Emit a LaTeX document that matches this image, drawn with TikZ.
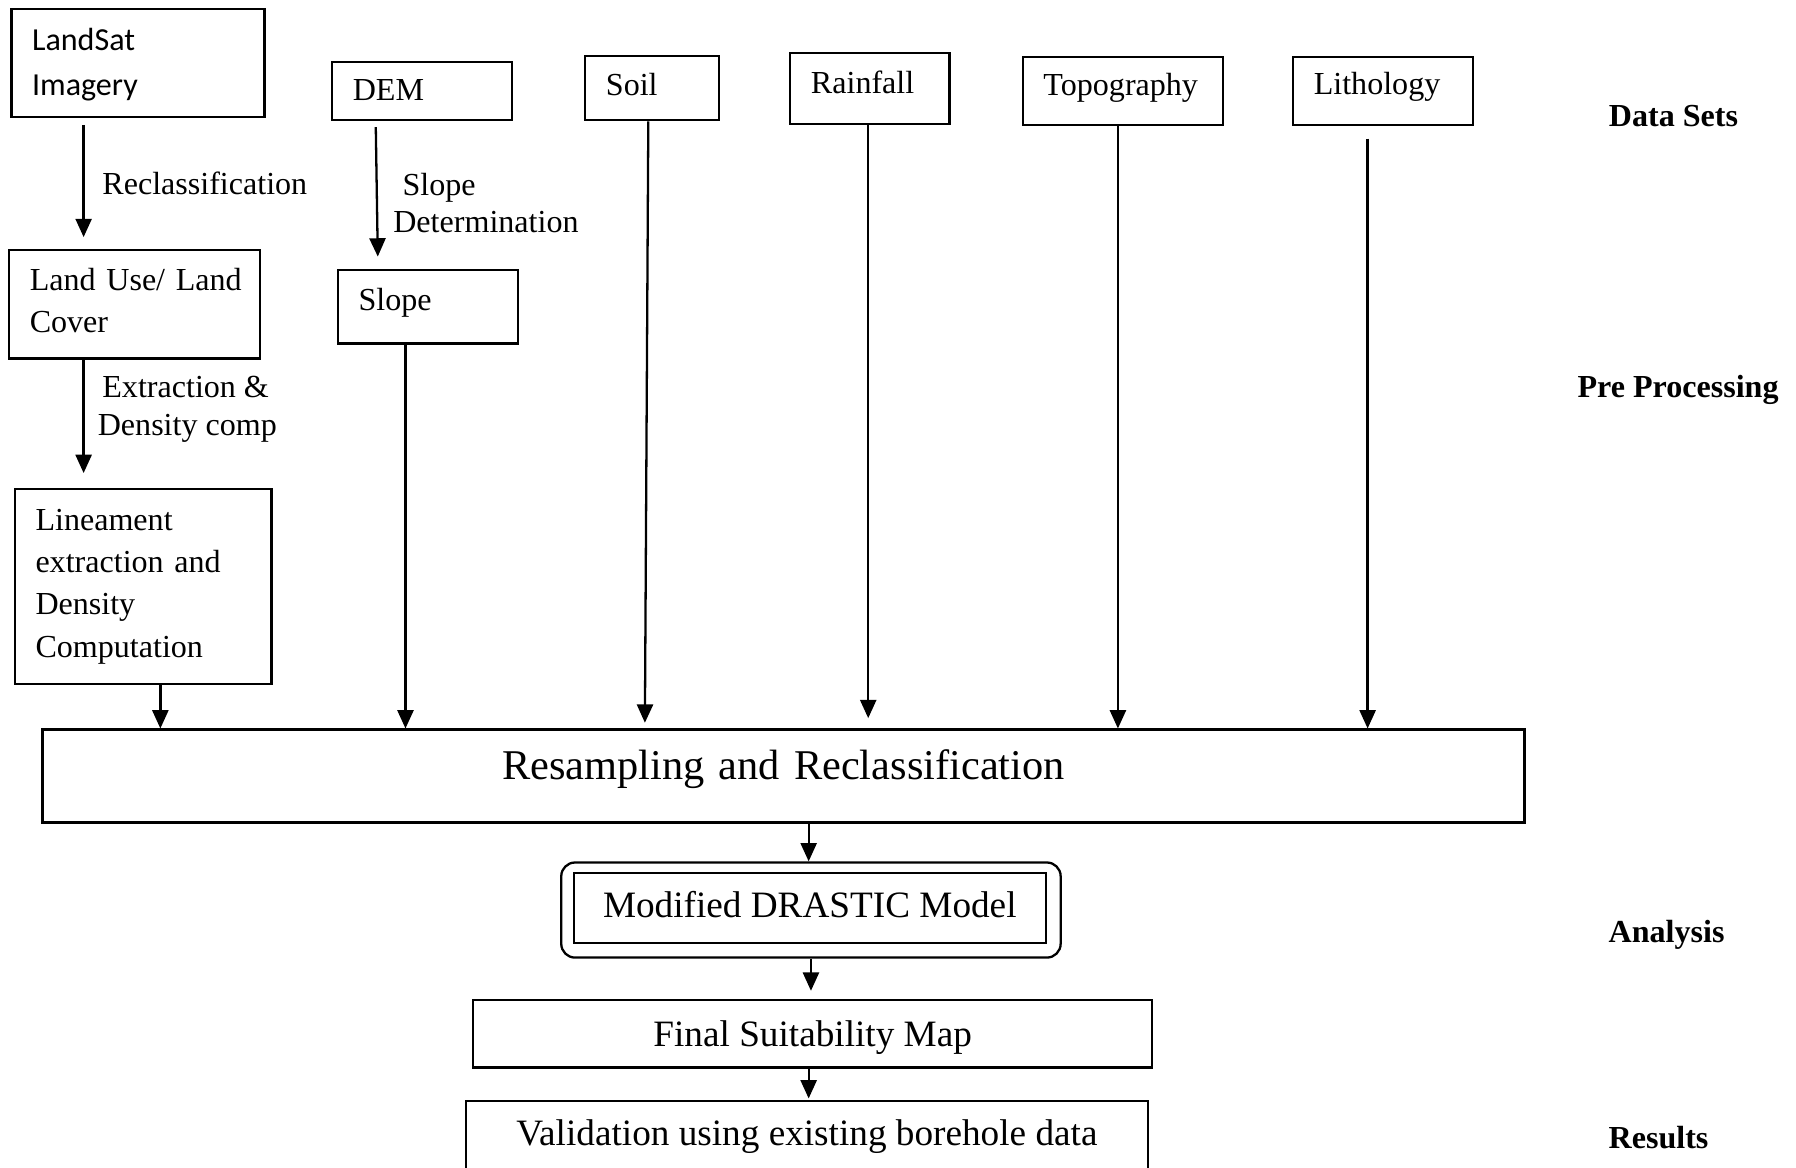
\documentclass[tikz,border=0pt]{standalone}
\usepackage{fontspec}
\setmainfont{Liberation Serif}
\newfontfamily\calfont{Carlito}
\usetikzlibrary{arrows.meta}
\begin{document}
\begin{tikzpicture}[x=0.5pt,y=-0.5pt,
  box/.style={draw, line width=1pt, inner xsep=9pt, inner ysep=0pt, align=left, font=\fontsize{14}{18.5}\selectfont},
  tb/.style={text height=9.27pt, text depth=#1},
  tb/.default=0pt,
  cbox/.style={draw, line width=1pt, inner sep=0pt, align=center, font=\fontsize{16.25}{19}\selectfont, text height=10.76pt, text depth=0pt},
  arr/.style={line width=1pt, -{Triangle[length=8pt,width=7pt]}},
  side/.style={inner sep=0pt, font=\fontsize{14}{17}\selectfont\bfseries, text height=9.27pt, text depth=0pt},
  lbl/.style={anchor=west, align=left, inner sep=0pt, font=\fontsize{14}{16}\selectfont}]
\useasboundingbox (0,0) rectangle (1568,1019);
\clip (0,0) rectangle (1568,1019);
\fill[white] (0,0) rectangle (1568,1019);

% data set boxes
\node[box, text width=92.5pt, minimum height=47pt, text height=9pt, text depth=19.5pt, font=\calfont\fontsize{14}{19.5}\selectfont] (landsat) at (120.5,55) {LandSat\\Imagery};
\node[box, tb=1pt, text width=60.5pt, minimum height=25.5pt] (dem) at (368.5,79.5) {DEM};
\node[box, tb=2.6pt, text width=40.5pt, minimum height=28pt] (soil) at (569.5,77) {Soil};
\node[box, tb=4.5pt, text width=51.5pt, minimum height=31pt] (rain) at (759.5,77) {Rainfall};
\node[box, tb=5.4pt, text width=69.5pt, minimum height=29.5pt] (topo) at (980.5,79.5) {Topography};
\node[box, tb=6.5pt, text width=60.5pt, minimum height=29.5pt] (litho) at (1207.5,79.5) {Lithology};

% pre-processing boxes
\node[box, text width=91.5pt, minimum height=47.5pt, text height=9.27pt, text depth=21.5pt] (landuse) at (117.5,265.5) {\mbox{Land Use/ Land}\\Cover};
\node[box, tb=6.6pt, text width=60.5pt, minimum height=32pt] (slope) at (373.5,268) {Slope};
\node[box, text width=94pt, minimum height=85pt] (linea) at (125,512) {Lineament\\extraction and\\Density\\Computation};

% main chain
\node[box, align=center, inner xsep=0pt, text width=647pt, minimum height=40.5pt, text height=12.25pt, text depth=9.5pt, font=\fontsize{18.5}{22}\selectfont] (resamp) at (684,677.5) {Resampling and Reclassification};
\node[draw, line width=1pt, rounded corners=6pt, minimum width=218pt, minimum height=41.5pt] (drout) at (708,794.5) {};
\node[cbox, text depth=2.5pt, minimum width=206pt, minimum height=30.5pt] (drastic) at (707,792.5) {Modified DRASTIC Model};
\node[cbox, minimum width=296.5pt, minimum height=29.5pt] (final) at (709.5,902.5) {Final Suitability Map};
\node[cbox, draw=none, minimum width=296.5pt, minimum height=27pt] (valid) at (704.5,989) {Validation using existing borehole data};
\draw[line width=1pt] ([yshift=-30pt]valid.south west) -- (valid.north west) -- (valid.north east) -- ([yshift=-30pt]valid.south east);

% arrow labels
\node[lbl] (lreclass) at (89,160) {Reclassification};
\node[lbl] (lslope) at (343,177) {\hspace*{4pt}Slope\\Determination};
\node[lbl, font=\fontsize{14}{16.5}\selectfont] (lextract) at (85,357.5) {\hspace*{2pt}Extraction \&\\Density comp};

% connectors
\draw[arr, shorten <=3pt, shorten >=5pt] (landsat.south -| 73,0) -- (landuse.north -| 73,0);
\draw[arr, shorten >=6.5pt] (landuse.south -| 73,0) -- (linea.north -| 73,0);
\draw[arr] (linea.south -| 140,0) -- (resamp.north -| 140,0);
\draw[arr, shorten <=2.5pt, shorten >=5.5pt] (dem.south -| 328,0) -- (slope.north -| 330,0);
\draw[arr] (slope.south -| 354,0) -- (resamp.north -| 354,0);
\draw[arr, shorten >=2.5pt] (soil.south -| 566,0) -- (resamp.north -| 563,0);
\draw[arr, shorten >=4.5pt] (rain.south -| 758,0) -- (resamp.north -| 758,0);
\draw[arr] (topo.south -| 976,0) -- (resamp.north -| 976,0);
\draw[arr, shorten <=5.5pt] (litho.south -| 1194,0) -- (resamp.north -| 1194,0);
\draw[arr] (resamp.south -| 706,0) -- (drout.north -| 706,0);
\draw[arr, shorten >=3.5pt] (drout.south -| 708,0) -- (final.north -| 708,0);
\draw[arr, shorten >=1pt] (final.south -| 706,0) -- (valid.north -| 706,0);

% stage labels
\node[side] (sdata) at (1461,101) {Data Sets};
\node[side] (spre) at (1465,338) {Pre Processing};
\node[side] (sana) at (1455,813.4) {Analysis};
\node[side] (sres) at (1448,993.5) {Results};
\end{tikzpicture}
\end{document}
